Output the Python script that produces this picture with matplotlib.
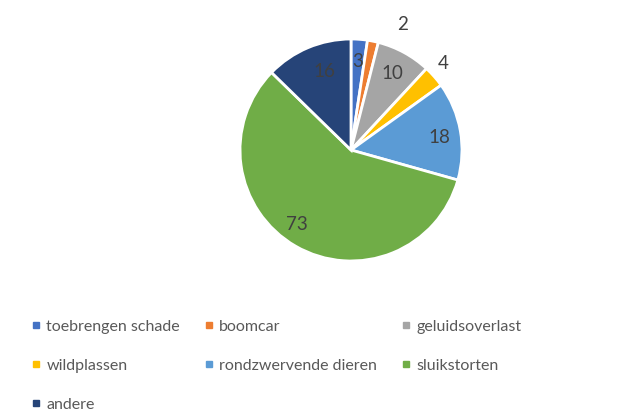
import numpy as np
from matplotlib import pyplot as plt
from matplotlib.lines import Line2D

categories = ["toebrengen schade", "boomcar", "geluidsoverlast", "wildplassen",
              "rondzwervende dieren", "sluikstorten", "andere"]
values = [3, 2, 10, 4, 18, 73, 16]
colors = ["#4472C4", "#ED7D31", "#A5A5A5", "#FFC000", "#5B9BD5", "#70AD47", "#264478"]

# label placement per wedge (distance as fraction of radius, angle shift in degrees)
label_dist = [0.8, 1.22, 0.78, 1.14, 0.8, 0.83, 0.75]
label_shift = [0, -11, 0, 2, -2, -6, -4]

plt.rcParams["font.family"] = ["Lato", "DejaVu Sans"]

fig = plt.figure(figsize=(6.26, 4.16), dpi=100)
ax = fig.add_axes([0.3834, 0.3726, 0.3546, 0.5337])

wedges, _ = ax.pie(values, colors=colors, startangle=90, counterclock=False,
                   wedgeprops=dict(edgecolor="white", linewidth=2))
ax.set_xlim(-1, 1)
ax.set_ylim(-1, 1)
ax.set_aspect("equal")

for w, v, d, s in zip(wedges, values, label_dist, label_shift):
    ang = np.deg2rad((w.theta1 + w.theta2) / 2 + s)
    ax.text(d * np.cos(ang), d * np.sin(ang), str(v), ha="center", va="center",
            fontsize=13.5, color="#404040")

# Excel fills the legend row by row, matplotlib column by column
order = [0, 3, 6, 1, 4, 2, 5]
handles = [Line2D([], [], linestyle="none", marker="s", markersize=5,
                  color=colors[i]) for i in order]
labels = [categories[i] for i in order]
fig.legend(handles, labels, loc="upper left", bbox_to_anchor=(0.05, 0.232),
           ncol=3, frameon=False, fontsize=11.5, labelcolor="#595959",
           handlelength=0.6, handletextpad=0.35, columnspacing=1.5,
           labelspacing=1.55, borderaxespad=0, borderpad=0)

fig.savefig("out.png", dpi=100)
